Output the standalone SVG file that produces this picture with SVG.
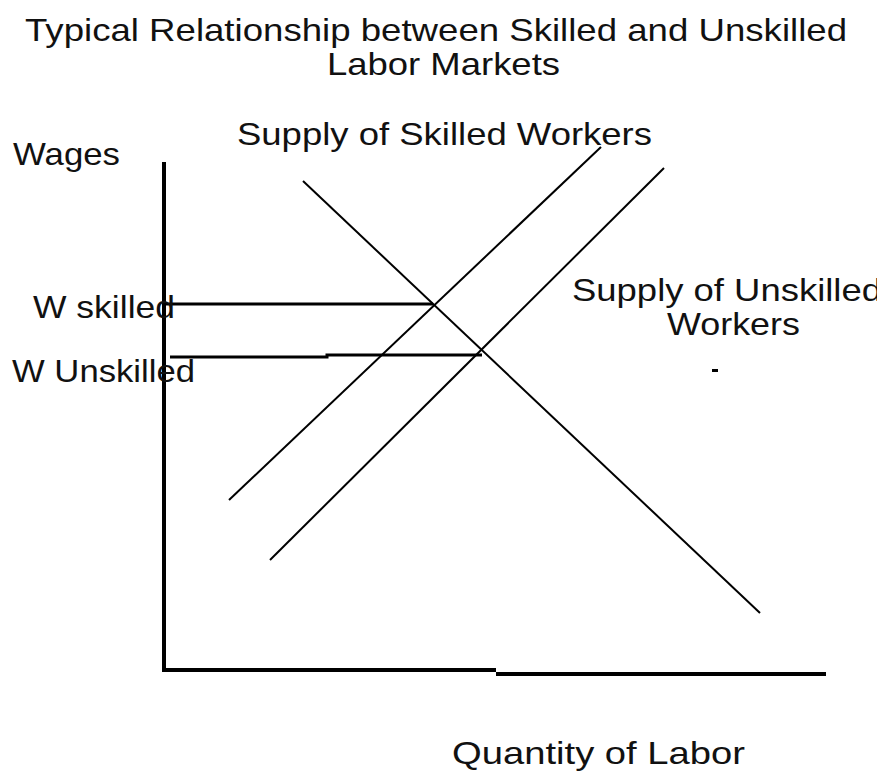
<svg xmlns="http://www.w3.org/2000/svg" width="877" height="772" viewBox="0 0 877 772">
<style>
text{font-family:"Liberation Sans",Arial,sans-serif;fill:#111;font-size:32px}
.ax{stroke:#000;stroke-width:4;fill:none}
.ref{stroke:#000;stroke-width:3;fill:none}
.crv{stroke:#000;stroke-width:2;fill:none}
</style>
<rect width="877" height="772" fill="#fff"/>
<g id="title">
<text x="25" y="41" font-size="30" textLength="822" lengthAdjust="spacingAndGlyphs">Typical Relationship between Skilled and Unskilled</text>
<text x="327" y="75" font-size="31" textLength="233" lengthAdjust="spacingAndGlyphs">Labor Markets</text>
</g>
<g id="axes">
<line class="ax" x1="164" y1="162" x2="164" y2="672"/>
<polyline class="ax" points="162,670 496,670"/>
<polyline class="ax" points="496,674 826,674"/>
<text x="13" y="165" font-size="33" textLength="107" lengthAdjust="spacingAndGlyphs">Wages</text>
<text x="452" y="764" font-size="31" textLength="293" lengthAdjust="spacingAndGlyphs">Quantity of Labor</text>
</g>
<g id="connectors">
<line class="crv" x1="303" y1="181" x2="760" y2="613"/>
<line class="crv" x1="229" y1="500" x2="601" y2="147"/>
<line class="crv" x1="270" y1="560" x2="664" y2="168"/>
<line class="ref" x1="164" y1="304" x2="433" y2="304"/>
<polyline class="ref" points="170,357 327,357 327,355 482,355"/>
</g>
<g id="label-skilled-supply">
<text x="237" y="145" textLength="415" lengthAdjust="spacingAndGlyphs">Supply of Skilled Workers</text>
</g>
<g id="label-unskilled-supply">
<text x="572" y="301" font-size="29" textLength="310" lengthAdjust="spacingAndGlyphs">Supply of Unskilled</text>
<text x="667" y="335" font-size="29" textLength="133" lengthAdjust="spacingAndGlyphs">Workers</text>
<rect x="712" y="369" width="6" height="3" fill="#000"/>
</g>
<g id="label-w-skilled">
<text x="33" y="318" textLength="142" lengthAdjust="spacingAndGlyphs">W skilled</text>
</g>
<g id="label-w-unskilled">
<text x="12" y="382" textLength="183" lengthAdjust="spacingAndGlyphs">W Unskilled</text>
</g>
</svg>
